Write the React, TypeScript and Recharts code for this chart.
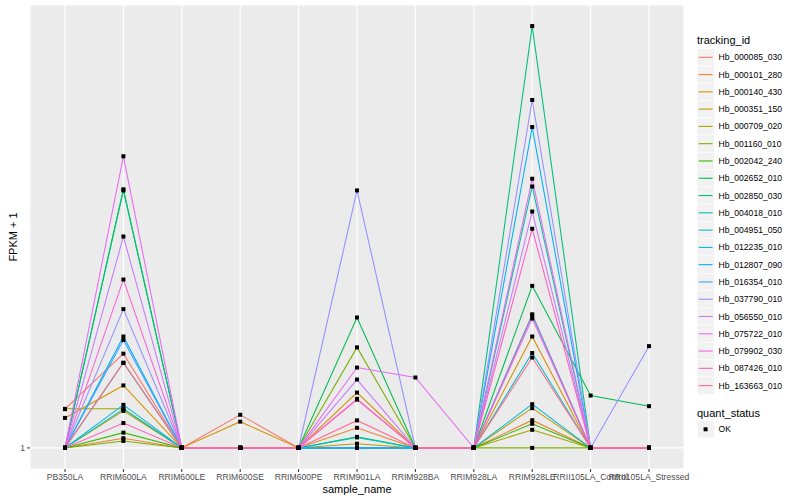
import React from 'react';
import { LineChart, Line, XAxis, YAxis, CartesianGrid } from 'recharts';

const categories = [
  'PB350LA', 'RRIM600LA', 'RRIM600LE', 'RRIM600SE', 'RRIM600PE', 'RRIM901LA',
  'RRIM928BA', 'RRIM928LA', 'RRIM928LE', 'RRII105LA_Control', 'RRII105LA_Stressed',
];

const trackingIds = [
  'Hb_000085_030', 'Hb_000101_280', 'Hb_000140_430', 'Hb_000351_150', 'Hb_000709_020',
  'Hb_001160_010', 'Hb_002042_240', 'Hb_002652_010', 'Hb_002850_030', 'Hb_004018_010',
  'Hb_004951_050', 'Hb_012235_010', 'Hb_012807_090', 'Hb_016354_010', 'Hb_037790_010',
  'Hb_056550_010', 'Hb_075722_010', 'Hb_079902_030', 'Hb_087426_010', 'Hb_163663_010',
];

// ggplot hue palette, 20 levels
const palette = [
  '#F8766D', '#EA8331', '#D89000', '#C09B00', '#A3A500', '#7CAE00', '#39B600', '#00BB4E',
  '#00BF7D', '#00C1A3', '#00BFC4', '#00BAE0', '#00B0F6', '#35A2FF', '#9590FF', '#C77CFF',
  '#E76BF3', '#FA62DB', '#FF62BC', '#FF6C91',
];

// FPKM + 1, one value per sample_name
const hb000085 = [1.21, 1.59, 1, 1.177, 1, 1, 1, 1, 1.93, 1, 1];
const hb000101 = [1, 1.049, 1, 1, 1, 1.104, 1, 1, 1.146, 1, 1];
const hb000140 = [1.159, 1.36, 1, 1.138, 1, 1.313, 1, 1, 1.73, 1, 1];
const hb000351 = [1, 1.2, 1, 1, 1, 1.021, 1, 1, 1.216, 1, 1];
const hb000709 = [1.212, 1.212, 1, 1, 1, 1, 1, 1, 1.093, 1, 1];
const hb001160 = [1, 1.035, 1, 1, 1, 1.64, 1, 1, 1, 1, 1];
const hb002042 = [1, 1.078, 1, 1, 1, 1, 1, 1, 1.126, 1, 1];
const hb002652 = [1, 3.57, 1, 1, 1, 1.9, 1, 1, 2.22, 1.294, 1.228];
const hb002850 = [1, 3.55, 1, 1, 1, 1.056, 1, 1, 7.97, 1, 1];
const hb004018 = [1, 1.52, 1, 1, 1, 1.053, 1, 1, 3.62, 1, 1];
const hb004951 = [1, 1.21, 1, 1, 1, 1, 1, 1, 1.595, 1, 1];
const hb012235 = [1, 1.236, 1, 1, 1, 1, 1, 1, 1.24, 1, 1];
const hb012807 = [1, 1.73, 1, 1, 1, 1, 1, 1, 4.85, 1, 1];
const hb016354 = [1, 1.7, 1, 1, 1, 1, 1, 1, 1.92, 1, 1];
const hb037790 = [1, 1.98, 1, 1, 1, 3.55, 1, 1, 5.54, 1, 1.65];
const hb056550 = [1, 2.83, 1, 1, 1, 1.4, 1, 1, 3.2, 1, 1];
const hb075722 = [1, 4.2, 1, 1, 1, 1.485, 1.414, 1, 3.76, 1, 1];
const hb079902 = [1, 2.29, 1, 1, 1, 1.273, 1, 1, 1.89, 1, 1];
const hb087426 = [1, 1.13, 1, 1, 1, 1.268, 1, 1, 2.94, 1, 1];
const hb163663 = [1, 1.52, 1, 1, 1, 1.145, 1, 1, 1.56, 1, 1];

const seriesValues = [
  hb000085, hb000101, hb000140, hb000351, hb000709, hb001160, hb002042, hb002652, hb002850, hb004018,
  hb004951, hb012235, hb012807, hb016354, hb037790, hb056550, hb075722, hb079902, hb087426, hb163663,
];

const yTicks = [1];

const data = categories.map((sample, i) => {
  const row: Record<string, any> = { sample };
  trackingIds.forEach((id, k) => {
    row[id] = seriesValues[k][i];
  });
  return row;
});

// log10 scale with ggplot's 5% expansion
const allVals = seriesValues.flat();
const lmin = Math.log10(Math.min(...allVals));
const lmax = Math.log10(Math.max(...allVals));
const ext = (lmax - lmin) * 0.05;
const yDomain = [Math.pow(10, lmin - ext), Math.pow(10, lmax + ext)];

const FONT = '"Liberation Sans", Arial, Helvetica, sans-serif';

const SquareDot = (props: any) => {
  const { cx, cy, index } = props;
  if (cx == null || cy == null) return <g key={index} />;
  return <rect key={index} x={cx - 2} y={cy - 2} width={4} height={4} fill="#000000" />;
};

const KEY0 = 57.3;
const KEY_STEP = 17.28;

const Legend = () => (
  <svg width={800} height={500} style={{ position: 'absolute', left: 0, top: 0, pointerEvents: 'none' }}>
    <text x={697} y={40} fontSize={11} fill="#000" dominantBaseline="central" fontFamily={FONT}>
      tracking_id
    </text>
    {trackingIds.map((id, i) => {
      const cy = KEY0 + i * KEY_STEP;
      return (
        <g key={id}>
          <rect x={697} y={cy - KEY_STEP / 2} width={17.28} height={KEY_STEP} fill="#F2F2F2" stroke="#FFFFFF" strokeWidth={0.6} />
          <line x1={698.7} x2={712.6} y1={cy} y2={cy} stroke={palette[i]} strokeWidth={1.1} />
          <text x={718.5} y={cy} fontSize={8.6} fill="#000" dominantBaseline="central" fontFamily={FONT}>
            {id}
          </text>
        </g>
      );
    })}
    <text x={697} y={412.7} fontSize={11} fill="#000" dominantBaseline="central" fontFamily={FONT}>
      quant_status
    </text>
    <rect x={697} y={429.3 - KEY_STEP / 2} width={17.28} height={KEY_STEP} fill="#F2F2F2" stroke="#FFFFFF" strokeWidth={0.6} />
    <rect x={703.6} y={427.3} width={4} height={4} fill="#000" />
    <text x={718.5} y={429.3} fontSize={8.6} fill="#000" dominantBaseline="central" fontFamily={FONT}>
      OK
    </text>
    <text
      x={13}
      y={237}
      fontSize={11}
      fill="#000"
      textAnchor="middle"
      dominantBaseline="central"
      transform="rotate(-90 13 237)"
      fontFamily={FONT}
    >
      FPKM + 1
    </text>
    <text x={357} y={489} fontSize={11} fill="#000" textAnchor="middle" dominantBaseline="central" fontFamily={FONT}>
      sample_name
    </text>
  </svg>
);

export default function App() {
  return (
    <div style={{ position: 'absolute', left: 0, top: 0, width: 800, height: 500, background: '#fff', fontFamily: FONT }}>
      <LineChart width={800} height={500} data={data} margin={{ top: 5, right: 116, bottom: 0, left: 0 }}>
        <CartesianGrid fill="#EBEBEB" stroke="#FFFFFF" strokeWidth={1.1} />
        <XAxis
          dataKey="sample"
          type="category"
          padding={{ left: 35, right: 35 }}
          height={31}
          interval={0}
          tickSize={3}
          axisLine={false}
          tickLine={{ stroke: '#333333' }}
          tick={{ fontSize: 8.6, fill: '#4D4D4D' }}
        />
        <YAxis
          type="number"
          scale="log"
          domain={yDomain}
          ticks={yTicks}
          allowDataOverflow
          width={30}
          tickSize={3}
          axisLine={false}
          tickLine={{ stroke: '#333333' }}
          tick={{ fontSize: 8.6, fill: '#4D4D4D' }}
        />
        {trackingIds.map((id, i) => (
          <Line
            key={id}
            dataKey={id}
            type="linear"
            stroke={palette[i]}
            strokeWidth={1.07}
            dot={false}
            activeDot={false}
            isAnimationActive={false}
          />
        ))}
        {trackingIds.map((id) => (
          <Line
            key={`${id}-pts`}
            dataKey={id}
            type="linear"
            stroke="none"
            dot={SquareDot}
            activeDot={false}
            isAnimationActive={false}
          />
        ))}
      </LineChart>
      <Legend />
    </div>
  );
}
